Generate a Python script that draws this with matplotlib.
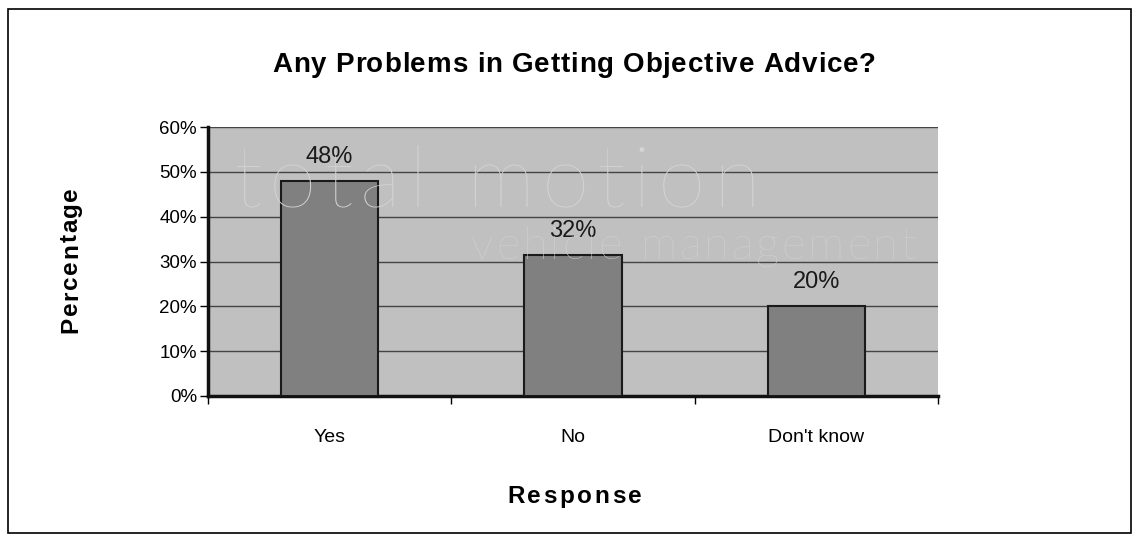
import numpy as np
import matplotlib.pyplot as plt
import matplotlib.patches as patches
from matplotlib.font_manager import FontProperties

plt.rcParams['font.family'] = ['Liberation Sans', 'DejaVu Sans']

# Данные
categories = ['Yes', 'No', "Don't know"]
values = [48, 31.5, 20]
labels = ['48%', '32%', '20%']
yticks = [0, 10, 20, 30, 40, 50, 60]

W, H = 1139, 542
fig = plt.figure(figsize=(W / 100, H / 100), dpi=100)
fig.patch.set_facecolor('white')
renderer = fig.canvas.get_renderer()

# Рамка вокруг всего рисунка
fig.add_artist(patches.Rectangle((8 / W, 9 / H), 1123 / W, 524 / H,
                                 transform=fig.transFigure, fill=False,
                                 edgecolor='black', linewidth=1.2))

ax = fig.add_axes([208 / W, 1 - 396 / H, 730 / W, 269 / H])
ax.set_facecolor('#C0C0C0')

x = np.arange(len(categories))
ax.bar(x, values, width=0.40, color='#808080', edgecolor='#1a1a1a', linewidth=1.5, zorder=3)

for xi, v, lab in zip(x, values, labels):
    ax.text(xi, v + 4.0, lab, ha='center', va='baseline', fontsize=17, color='#1a1a1a', zorder=4)

ax.set_xlim(-0.5, 2.5)
ax.set_ylim(0, 60)
ax.set_yticks(yticks)
ax.set_yticklabels([f'{t}%' for t in yticks], fontsize=13.5)
ax.yaxis.grid(True, color='#444444', linewidth=1.0, zorder=1)
ax.set_axisbelow(True)

ax.set_xticks(x)
ax.set_xticklabels(categories, fontsize=14)
ax.set_xticks([-0.5, 0.5, 1.5, 2.5], minor=True)
ax.tick_params(axis='x', which='major', length=0, pad=24)
ax.tick_params(axis='x', which='minor', length=6, width=1, direction='out')
ax.tick_params(axis='y', length=6, width=1, direction='out', pad=2)

for s in ['top', 'right']:
    ax.spines[s].set_visible(False)
for s in ['left', 'bottom']:
    ax.spines[s].set_linewidth(2.5)
    ax.spines[s].set_color('#111111')


def char_adv(c, fp):
    # ширина буквы вместе с боковыми отступами
    w2 = renderer.get_text_width_height_descent('||', fp, False)[0]
    w3 = renderer.get_text_width_height_descent('|' + c + '|', fp, False)[0]
    return w3 - w2


# Текст с разрядкой: растягиваем надпись от p0 до p1 (в пикселях)
def spaced_text(text, p0, p1, base, fp, color='black', vertical=False, zorder=2):
    adv = [char_adv(c, fp) for c in text]
    gap = ((abs(p1 - p0)) - sum(adv)) / (len(text) - 1)
    pos = p0
    for c, a in zip(text, adv):
        if vertical:
            xy = (base / W, 1 - pos / H)
        else:
            xy = (pos / W, 1 - base / H)
        fig.text(xy[0], xy[1], c, fontproperties=fp, color=color, ha='left', va='baseline',
                 rotation=90 if vertical else 0, rotation_mode='anchor', zorder=zorder)
        pos += (a + gap) * (-1 if vertical else 1)


# Водяной знак
wm1 = FontProperties(family='Lato', weight='light', size=62)
wm2 = FontProperties(family='Lato', weight='light', size=33)
spaced_text('total motion', 233, 760, 207, wm1, color='#D4D4D4')
spaced_text('vehicle management', 471, 916, 259, wm2, color='#D4D4D4')

# Заголовок и подписи осей
bold_t = FontProperties(family='Liberation Sans', weight='bold', size=20)
bold_a = FontProperties(family='Liberation Sans', weight='bold', size=17.5)
spaced_text('Any Problems in Getting Objective Advice?', 272, 876, 72, bold_t)
spaced_text('Response', 507, 642, 503, bold_a)
spaced_text('Percentage', 333, 187, 77, bold_a, vertical=True)

plt.savefig('out.png', dpi=100)
